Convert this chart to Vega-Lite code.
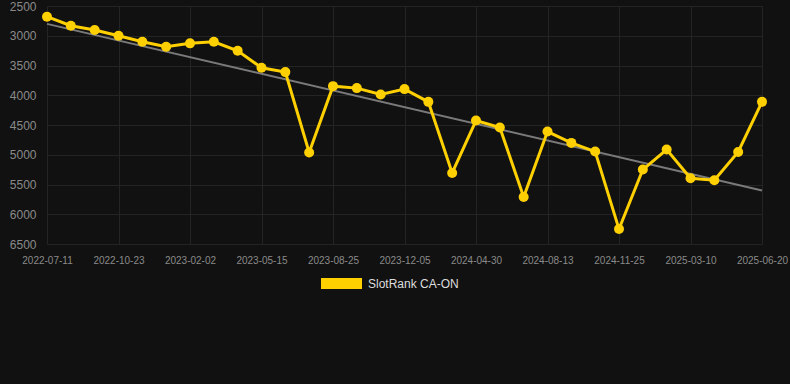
{
  "$schema": "https://vega.github.io/schema/vega-lite/v6.json",
  "autosize": {"type": "none"},
  "padding": {"left": 43, "top": 6, "right": 0, "bottom": 140},
  "width": 747,
  "height": 238,
  "background": "#111111",
  "config": {
    "view": {"stroke": null},
    "font": "Liberation Sans",
    "axis": {"labelFont": "Liberation Sans", "labelColor": "#8a8a8a", "gridColor": "#242424", "domain": false, "ticks": false, "labelOverlap": false}
  },
  "datasets": {
    "rank": [
      {"date": "2022-07-11", "rank": 2680},
      {"date": "2022-08-15", "rank": 2831},
      {"date": "2022-09-19", "rank": 2904},
      {"date": "2022-10-23", "rank": 3000},
      {"date": "2022-11-26", "rank": 3101},
      {"date": "2022-12-30", "rank": 3185},
      {"date": "2023-02-02", "rank": 3128},
      {"date": "2023-03-08", "rank": 3101},
      {"date": "2023-04-11", "rank": 3252},
      {"date": "2023-05-15", "rank": 3538},
      {"date": "2023-06-18", "rank": 3611},
      {"date": "2023-07-22", "rank": 4963},
      {"date": "2023-08-25", "rank": 3847},
      {"date": "2023-09-28", "rank": 3880},
      {"date": "2023-11-01", "rank": 3987},
      {"date": "2023-12-05", "rank": 3897},
      {"date": "2024-01-23", "rank": 4111},
      {"date": "2024-03-12", "rank": 5306},
      {"date": "2024-04-30", "rank": 4425},
      {"date": "2024-06-04", "rank": 4543},
      {"date": "2024-07-09", "rank": 5710},
      {"date": "2024-08-13", "rank": 4610},
      {"date": "2024-09-16", "rank": 4801},
      {"date": "2024-10-21", "rank": 4946},
      {"date": "2024-11-25", "rank": 6249},
      {"date": "2024-12-30", "rank": 5249},
      {"date": "2025-02-03", "rank": 4913},
      {"date": "2025-03-10", "rank": 5396},
      {"date": "2025-04-13", "rank": 5429},
      {"date": "2025-05-17", "rank": 4953},
      {"date": "2025-06-20", "rank": 4111}
    ],
    "trend": [
      {"date": "2022-07-11", "rank": 2800},
      {"date": "2025-06-20", "rank": 5600}
    ]
  },
  "encoding": {
    "x": {
      "field": "date",
      "type": "ordinal",
      "title": null,
      "scale": {"type": "point", "range": [4, 719], "padding": 0},
      "axis": {
        "values": ["2022-07-11", "2022-10-23", "2023-02-02", "2023-05-15", "2023-08-25", "2023-12-05", "2024-04-30", "2024-08-13", "2024-11-25", "2025-03-10", "2025-06-20"],
        "labelAngle": 0,
        "labelAlign": "center",
        "labelFontSize": 10,
        "labelPadding": 11,
        "grid": true
      }
    },
    "y": {
      "field": "rank",
      "type": "quantitative",
      "title": null,
      "scale": {"domain": [2500, 6500], "reverse": true, "nice": false, "zero": false},
      "axis": {"values": [2500, 3000, 3500, 4000, 4500, 5000, 5500, 6000, 6500], "format": "d", "labelFontSize": 12, "labelPadding": 7, "grid": true}
    }
  },
  "layer": [
    {
      "data": {"name": "trend"},
      "mark": {"type": "line", "color": "#7a7a7a", "strokeWidth": 2}
    },
    {
      "data": {"name": "rank"},
      "mark": {"type": "line", "strokeWidth": 3, "point": {"filled": true, "size": 100, "opacity": 1}},
      "encoding": {
        "color": {
          "datum": "SlotRank CA-ON",
          "type": "nominal",
          "scale": {"range": ["#FFD000"]},
          "legend": {
            "title": null,
            "orient": "none",
            "legendX": 278,
            "legendY": 257,
            "padding": 0,
            "symbolType": "M-1,-0.27H1V0.27H-1Z",
            "symbolSize": 1681,
            "symbolFillColor": "#FFD000",
            "symbolStrokeWidth": 0,
            "labelColor": "#dddddd",
            "labelFontSize": 12,
            "labelOffset": 6
          }
        }
      }
    }
  ]
}
